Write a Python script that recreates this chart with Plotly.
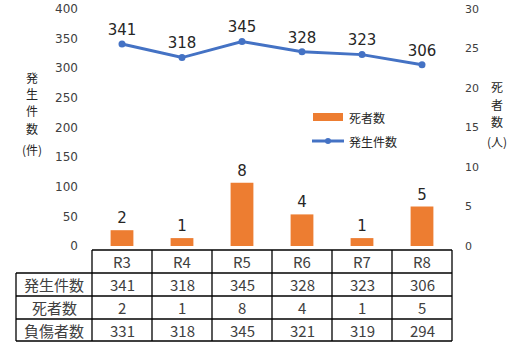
import plotly.graph_objects as go

# 年度別 発生件数・死者数・負傷者数
years = ["R3", "R4", "R5", "R6", "R7", "R8"]
incidents = [341, 318, 345, 328, 323, 306]   # 発生件数(件)
deaths = [2, 1, 8, 4, 1, 5]                  # 死者数(人)
injured = [331, 318, 345, 321, 319, 294]     # 負傷者数

row_labels = ["発生件数", "死者数", "負傷者数"]
table_rows = [incidents, deaths, injured]

left_ticks = [0, 50, 100, 150, 200, 250, 300, 350, 400]
right_ticks = [0, 5, 10, 15, 20, 25, 30]

left_title = ["発", "生", "件", "数", "(件)"]
right_title = ["死", "者", "数", "(人)"]

ORANGE = "#ED7D31"
BLUE = "#4472C4"
TXT = "#404040"
NUM_FONT = "DejaVu Sans"
JP_FONT = "Noto Sans CJK JP"

W, H = 509, 342
ML, MR, MT, MB = 92, 57, 9, 96
PW, PH = W - ML - MR, H - MT - MB


def px(x):
    return (x - ML) / PW


def py(y):
    return (H - MB - y) / PH


fig = go.Figure()

fig.add_trace(go.Bar(
    x=years, y=deaths, name="死者数", yaxis="y2",
    marker=dict(color=ORANGE, line=dict(width=0)), width=0.38,
    text=[str(v) for v in deaths], textposition="outside",
    textfont=dict(family=NUM_FONT, size=15, color="#262626"),
    cliponaxis=False, showlegend=False,
))

fig.add_trace(go.Scatter(
    x=years, y=incidents, name="発生件数", yaxis="y",
    mode="lines+markers+text",
    line=dict(color=BLUE, width=3),
    marker=dict(color=BLUE, size=7),
    text=[str(v) for v in incidents], textposition="top center",
    textfont=dict(family=NUM_FONT, size=15, color="#262626"),
    cliponaxis=False, showlegend=False,
))

shapes = []
annotations = []

# Data table under the plot
col_edges = [ML + i * PW / len(years) for i in range(len(years) + 1)]
label_left = 16
row_edges = [250, 273, 296, 319, 341]
line_style = dict(color="#000000", width=1.3)

# horizontal lines
shapes.append(dict(type="line", xref="paper", yref="paper",
                   x0=px(col_edges[0]), x1=px(col_edges[-1]),
                   y0=py(row_edges[0]), y1=py(row_edges[0]), line=line_style))
for y in row_edges[1:]:
    shapes.append(dict(type="line", xref="paper", yref="paper",
                       x0=px(label_left), x1=px(col_edges[-1]),
                       y0=py(y), y1=py(y), line=line_style))
# vertical lines
for x in col_edges:
    shapes.append(dict(type="line", xref="paper", yref="paper",
                       x0=px(x), x1=px(x),
                       y0=py(row_edges[0]), y1=py(row_edges[-1]), line=line_style))
shapes.append(dict(type="line", xref="paper", yref="paper",
                   x0=px(label_left), x1=px(label_left),
                   y0=py(row_edges[1]), y1=py(row_edges[-1]), line=line_style))

cell_font = dict(family=JP_FONT, size=15, color=TXT)
for i, yr in enumerate(years):
    cx = (col_edges[i] + col_edges[i + 1]) / 2
    annotations.append(dict(x=px(cx), y=py((row_edges[0] + row_edges[1]) / 2),
                            xref="paper", yref="paper", text=yr, showarrow=False,
                            font=cell_font, xanchor="center", yanchor="middle"))
for r, (lab, vals) in enumerate(zip(row_labels, table_rows)):
    cy = (row_edges[r + 1] + row_edges[r + 2]) / 2
    annotations.append(dict(x=px((label_left + col_edges[0]) / 2), y=py(cy),
                            xref="paper", yref="paper", text=lab, showarrow=False,
                            font=cell_font, xanchor="center", yanchor="middle"))
    for i, v in enumerate(vals):
        cx = (col_edges[i] + col_edges[i + 1]) / 2
        annotations.append(dict(x=px(cx), y=py(cy), xref="paper", yref="paper",
                                text=str(v), showarrow=False, font=cell_font,
                                xanchor="center", yanchor="middle"))

# Axis titles (vertical, one character per line)
title_font = dict(family=JP_FONT, size=12, color="#262626")
for ch, yc in zip(left_title, [77, 94, 111, 128, 149]):
    annotations.append(dict(x=px(32), y=py(yc), xref="paper", yref="paper",
                            text=ch, showarrow=False, font=title_font,
                            height=15, borderpad=0,
                            xanchor="center", yanchor="middle"))
for ch, yc in zip(right_title, [86, 104, 122, 141]):
    annotations.append(dict(x=px(497), y=py(yc), xref="paper", yref="paper",
                            text=ch, showarrow=False, font=title_font,
                            height=15, borderpad=0,
                            xanchor="center", yanchor="middle"))

# Legend
legend_font = dict(family=JP_FONT, size=12, color="#262626")
shapes.append(dict(type="rect", xref="paper", yref="paper",
                   x0=px(313), x1=px(343), y0=py(121), y1=py(113),
                   fillcolor=ORANGE, line=dict(width=0)))
annotations.append(dict(x=px(347), y=py(117), xref="paper", yref="paper",
                        text="死者数", showarrow=False, font=legend_font,
                        xanchor="left", yanchor="middle"))
shapes.append(dict(type="line", xref="paper", yref="paper",
                   x0=px(312), x1=px(344), y0=py(141), y1=py(141),
                   line=dict(color=BLUE, width=3)))
shapes.append(dict(type="circle", xref="paper", yref="paper",
                   x0=px(325), x1=px(331), y0=py(144), y1=py(138),
                   fillcolor=BLUE, line=dict(width=0)))
annotations.append(dict(x=px(347), y=py(141), xref="paper", yref="paper",
                        text="発生件数", showarrow=False, font=legend_font,
                        xanchor="left", yanchor="middle"))

fig.update_layout(
    width=W, height=H,
    margin=dict(l=ML, r=MR, t=MT, b=MB, autoexpand=False),
    paper_bgcolor="white", plot_bgcolor="white",
    bargap=0.62,
    xaxis=dict(type="category", range=[-0.5, len(years) - 0.5],
               showticklabels=False, showgrid=False, zeroline=False,
               showline=False, ticks="", automargin=False),
    yaxis=dict(range=[0, 400], tickvals=left_ticks, showgrid=False,
               zeroline=False, showline=False, ticks="",
               ticklabelstandoff=13, automargin=False,
               tickfont=dict(family=NUM_FONT, size=12, color="#404040")),
    yaxis2=dict(range=[0, 30], tickvals=right_ticks, overlaying="y",
                side="right", showgrid=False, zeroline=False, showline=False,
                ticks="", ticklabelstandoff=12, automargin=False,
                tickfont=dict(family=NUM_FONT, size=11, color="#404040")),
    shapes=shapes,
    annotations=annotations,
    showlegend=False,
)

fig.write_html("out.html")
